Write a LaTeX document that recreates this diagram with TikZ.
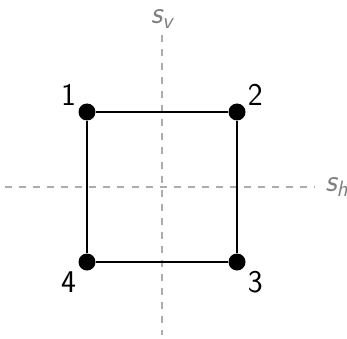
\documentclass[tikz,border=0pt]{standalone}
\usetikzlibrary{positioning}
\tikzset{vertex/.style={circle,fill=black,inner sep=0pt,minimum size=3.4mm},
  axis/.style={draw=gray!65,dash pattern=on 4pt off 4pt,line width=0.7pt},
  axislabel/.style={text=gray,font=\fontsize{18}{22}\selectfont\sffamily\slshape},
  numlabel/.style={font=\fontsize{18}{22}\selectfont\sffamily},
  edge/.style={line width=1.1pt}}
\begin{document}
\begin{tikzpicture}
\useasboundingbox (-3.24,-3.02) rectangle (3.7,3.74);
% symmetry axes
\coordinate (vtop) at (0,3.04);
\coordinate (vbot) at (0,-2.95);
\coordinate (hleft) at (-3.14,0);
\coordinate (hright) at (3.06,0);
\draw[axis] (vtop) -- (vbot);
\draw[axis] (hleft) -- (hright);
\node[axislabel] (sv) at (0,3.36) {s\textsubscript{v}};
\node[axislabel] (sh) at (3.5,0) {s\textsubscript{h}};
% square
\node[vertex] (v1) at (-1.5,1.5) {};
\node[vertex] (v2) at (1.5,1.5) {};
\node[vertex] (v3) at (1.5,-1.5) {};
\node[vertex] (v4) at (-1.5,-1.5) {};
\draw[edge] (v1) -- (v2) -- (v3) -- (v4) -- (v1);
\node[numlabel, above left=-1.2mm and -0.3mm of v1] (l1) {1};
\node[numlabel, above right=-1.2mm and -0.3mm of v2] (l2) {2};
\node[numlabel, below right=-0.6mm and -0.3mm of v3] (l3) {3};
\node[numlabel, below left=-0.6mm and -0.3mm of v4] (l4) {4};
\end{tikzpicture}
\end{document}
